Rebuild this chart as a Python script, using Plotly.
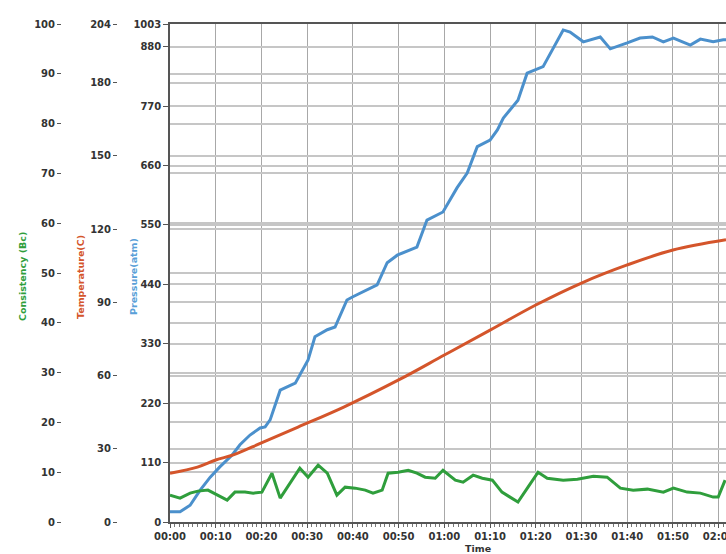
import plotly.graph_objects as go

# ---------------- data ----------------
tick_minutes = [0, 10, 20, 30, 40, 50, 60, 70, 80, 90, 100, 110, 120]
time_labels = ["00:00", "00:10", "00:20", "00:30", "00:40", "00:50", "01:00",
               "01:10", "01:20", "01:30", "01:40", "01:50", "02:00"]

pressure_time = [0.0, 2.2, 4.4, 6.6, 8.8, 10.9, 13.6, 15.3, 17.5, 19.7, 20.8, 21.9,
                 24.1, 27.4, 30.2, 31.7, 34.4, 36.1, 38.7, 40.0, 45.3, 47.5, 49.7,
                 54.0, 56.2, 59.7, 62.8, 65.0, 67.2, 70.0, 71.6, 72.9, 76.1, 78.1,
                 81.6, 83.8, 86.0, 87.5, 90.4, 94.1, 96.3, 100.0, 102.8, 105.5,
                 107.9, 110.1, 113.8, 116.0, 118.8, 121.0, 121.6]
pressure_atm = [19, 19, 31, 59, 83, 102, 124, 143, 161, 174, 176, 189,
                244, 257, 300, 343, 356, 361, 411, 417, 439, 480, 494,
                509, 559, 574, 619, 646, 695, 707, 726, 748, 781, 831,
                843, 878, 911, 907, 889, 898, 876, 887, 896, 898,
                889, 896, 883, 894, 889, 893, 893]

temperature_time = [0, 6, 10, 14, 20, 28, 38, 50, 60, 70, 80, 90, 100, 110, 121.6]
temperature_c = [20, 22.5, 25.4, 27.6, 32.4, 38.9, 47.1, 58.2, 68.4, 78.6, 88.9,
                 97.9, 105.3, 111.4, 115.6]

consistency_time = [0.0, 2.2, 4.4, 6.1, 8.3, 10.5, 12.5, 14.2, 16.4, 18.2, 20.1, 22.3,
                    24.1, 28.4, 30.2, 32.4, 34.4, 36.5, 38.3, 40.5, 42.7, 44.4, 46.4,
                    47.7, 49.9, 52.1, 54.0, 55.8, 58.0, 59.7, 62.4, 64.1, 66.3, 68.3,
                    70.5, 72.6, 76.1, 78.3, 80.5, 82.5, 86.0, 89.1, 92.6, 95.6, 98.5,
                    101.3, 104.4, 107.9, 110.1, 113.1, 116.0, 118.8, 119.9, 121.4]
consistency_bc = [5.4, 4.8, 5.8, 6.2, 6.4, 5.4, 4.4, 6.0, 6.0, 5.8, 6.0, 9.8,
                  4.8, 10.8, 9.0, 11.4, 9.8, 5.4, 7.0, 6.8, 6.4, 5.8, 6.4,
                  9.8, 10.0, 10.4, 9.8, 9.0, 8.8, 10.4, 8.4, 8.0, 9.4, 8.8,
                  8.4, 6.0, 4.0, 7.0, 10.0, 8.8, 8.4, 8.6, 9.2, 9.0, 6.8,
                  6.4, 6.6, 6.0, 6.8, 6.0, 5.8, 5.0, 5.0, 8.4]

pressure_tickvals = [0, 110, 220, 330, 440, 550, 660, 770, 880, 922]
pressure_ticktext = ["0", "110", "220", "330", "440", "550", "660", "770", "880", "1003"]
temperature_tickvals = [0, 30, 60, 90, 120, 150, 180, 204]
consistency_tickvals = [0, 10, 20, 30, 40, 50, 60, 70, 80, 90, 100]

# ---------------- styling ----------------
W, H = 726, 554
T, B = 24, 32
FONT = "DejaVu Sans"
tickfont = dict(family=FONT, size=10, color="#333333", weight="bold")
BLUE = "#4b90cc"
ORANGE = "#d4552b"
GREEN = "#2f9e3c"
HGRID = "#c6c6c6"


def py(ypx):
    """pixel row -> paper y (paper spans the plot area between margins)"""
    return (H - B - ypx) / (H - T - B)


fig = go.Figure()
fig.add_trace(go.Scatter(x=temperature_time, y=temperature_c, yaxis="y2", mode="lines",
                         line=dict(color=ORANGE, width=3, shape="spline"), name="Temperature"))
fig.add_trace(go.Scatter(x=pressure_time, y=pressure_atm, yaxis="y", mode="lines",
                         line=dict(color=BLUE, width=3), name="Pressure"))
fig.add_trace(go.Scatter(x=consistency_time, y=consistency_bc, yaxis="y3", mode="lines",
                         line=dict(color=GREEN, width=3), name="Consistency"))

x0 = 170 / W
fig.update_layout(
    width=W, height=H,
    margin=dict(l=0, r=0, t=T, b=B),
    paper_bgcolor="white", plot_bgcolor="white",
    showlegend=False,
    xaxis=dict(domain=[x0, 1], range=[0, 121.6], tickvals=tick_minutes, ticktext=time_labels,
               tickfont=tickfont, showgrid=True, gridcolor="#a8a8a8", gridwidth=1,
               showline=True, linecolor="#555555", linewidth=1.5, mirror=True,
               ticks="outside", ticklen=4, tickcolor="#555555", automargin=False,
               ticklabeloverflow="allow",
               minor=dict(dtick=1, ticks="outside", ticklen=3, tickcolor="#777777", showgrid=False),
               zeroline=False),
    yaxis=dict(range=[0, 922], tickvals=pressure_tickvals, ticktext=pressure_ticktext,
               tickfont=tickfont, showgrid=True, gridcolor=HGRID, gridwidth=1.5,
               showline=True, linecolor="#555555", linewidth=1.5, automargin=False,
               ticklabeloverflow="allow",
               ticks="outside", ticklen=5, tickcolor="#555555", zeroline=False),
    yaxis2=dict(range=[0, 204], tickvals=temperature_tickvals, overlaying="y", anchor="free",
                position=117 / W, side="left", tickfont=tickfont, showgrid=True,
                gridcolor=HGRID, gridwidth=1.5, showline=False, automargin=False,
                ticklabeloverflow="allow",
                ticks="outside", ticklen=4, tickcolor="#555555", zeroline=False),
    yaxis3=dict(range=[0, 100], tickvals=consistency_tickvals, overlaying="y", anchor="free",
                position=61 / W, side="left", tickfont=tickfont, showgrid=True,
                gridcolor=HGRID, gridwidth=1.5, showline=False, automargin=False,
                ticklabeloverflow="allow",
                ticks="outside", ticklen=4, tickcolor="#555555", zeroline=False),
)

titlefont = dict(family=FONT, size=9.5, weight="bold")
for txt, xpx, col in [("Consistency (Bc)", 22, GREEN), ("Temperature(C)", 80, ORANGE),
                      ("Pressure(atm)", 133, "#5aa0d8")]:
    fig.add_annotation(text=txt, x=xpx / W, y=py(277), xref="paper", yref="paper",
                       textangle=-90, showarrow=False, xanchor="center", yanchor="middle",
                       font=dict(color=col, **titlefont))
fig.add_annotation(text="Time", x=478 / W, y=py(548), xref="paper", yref="paper",
                   showarrow=False, xanchor="center", yanchor="middle",
                   font=dict(color="#333333", **titlefont))

fig.write_html("out.html", config={"displayModeBar": False},
               post_script="document.body.style.margin='0';document.body.style.overflow='hidden';")
